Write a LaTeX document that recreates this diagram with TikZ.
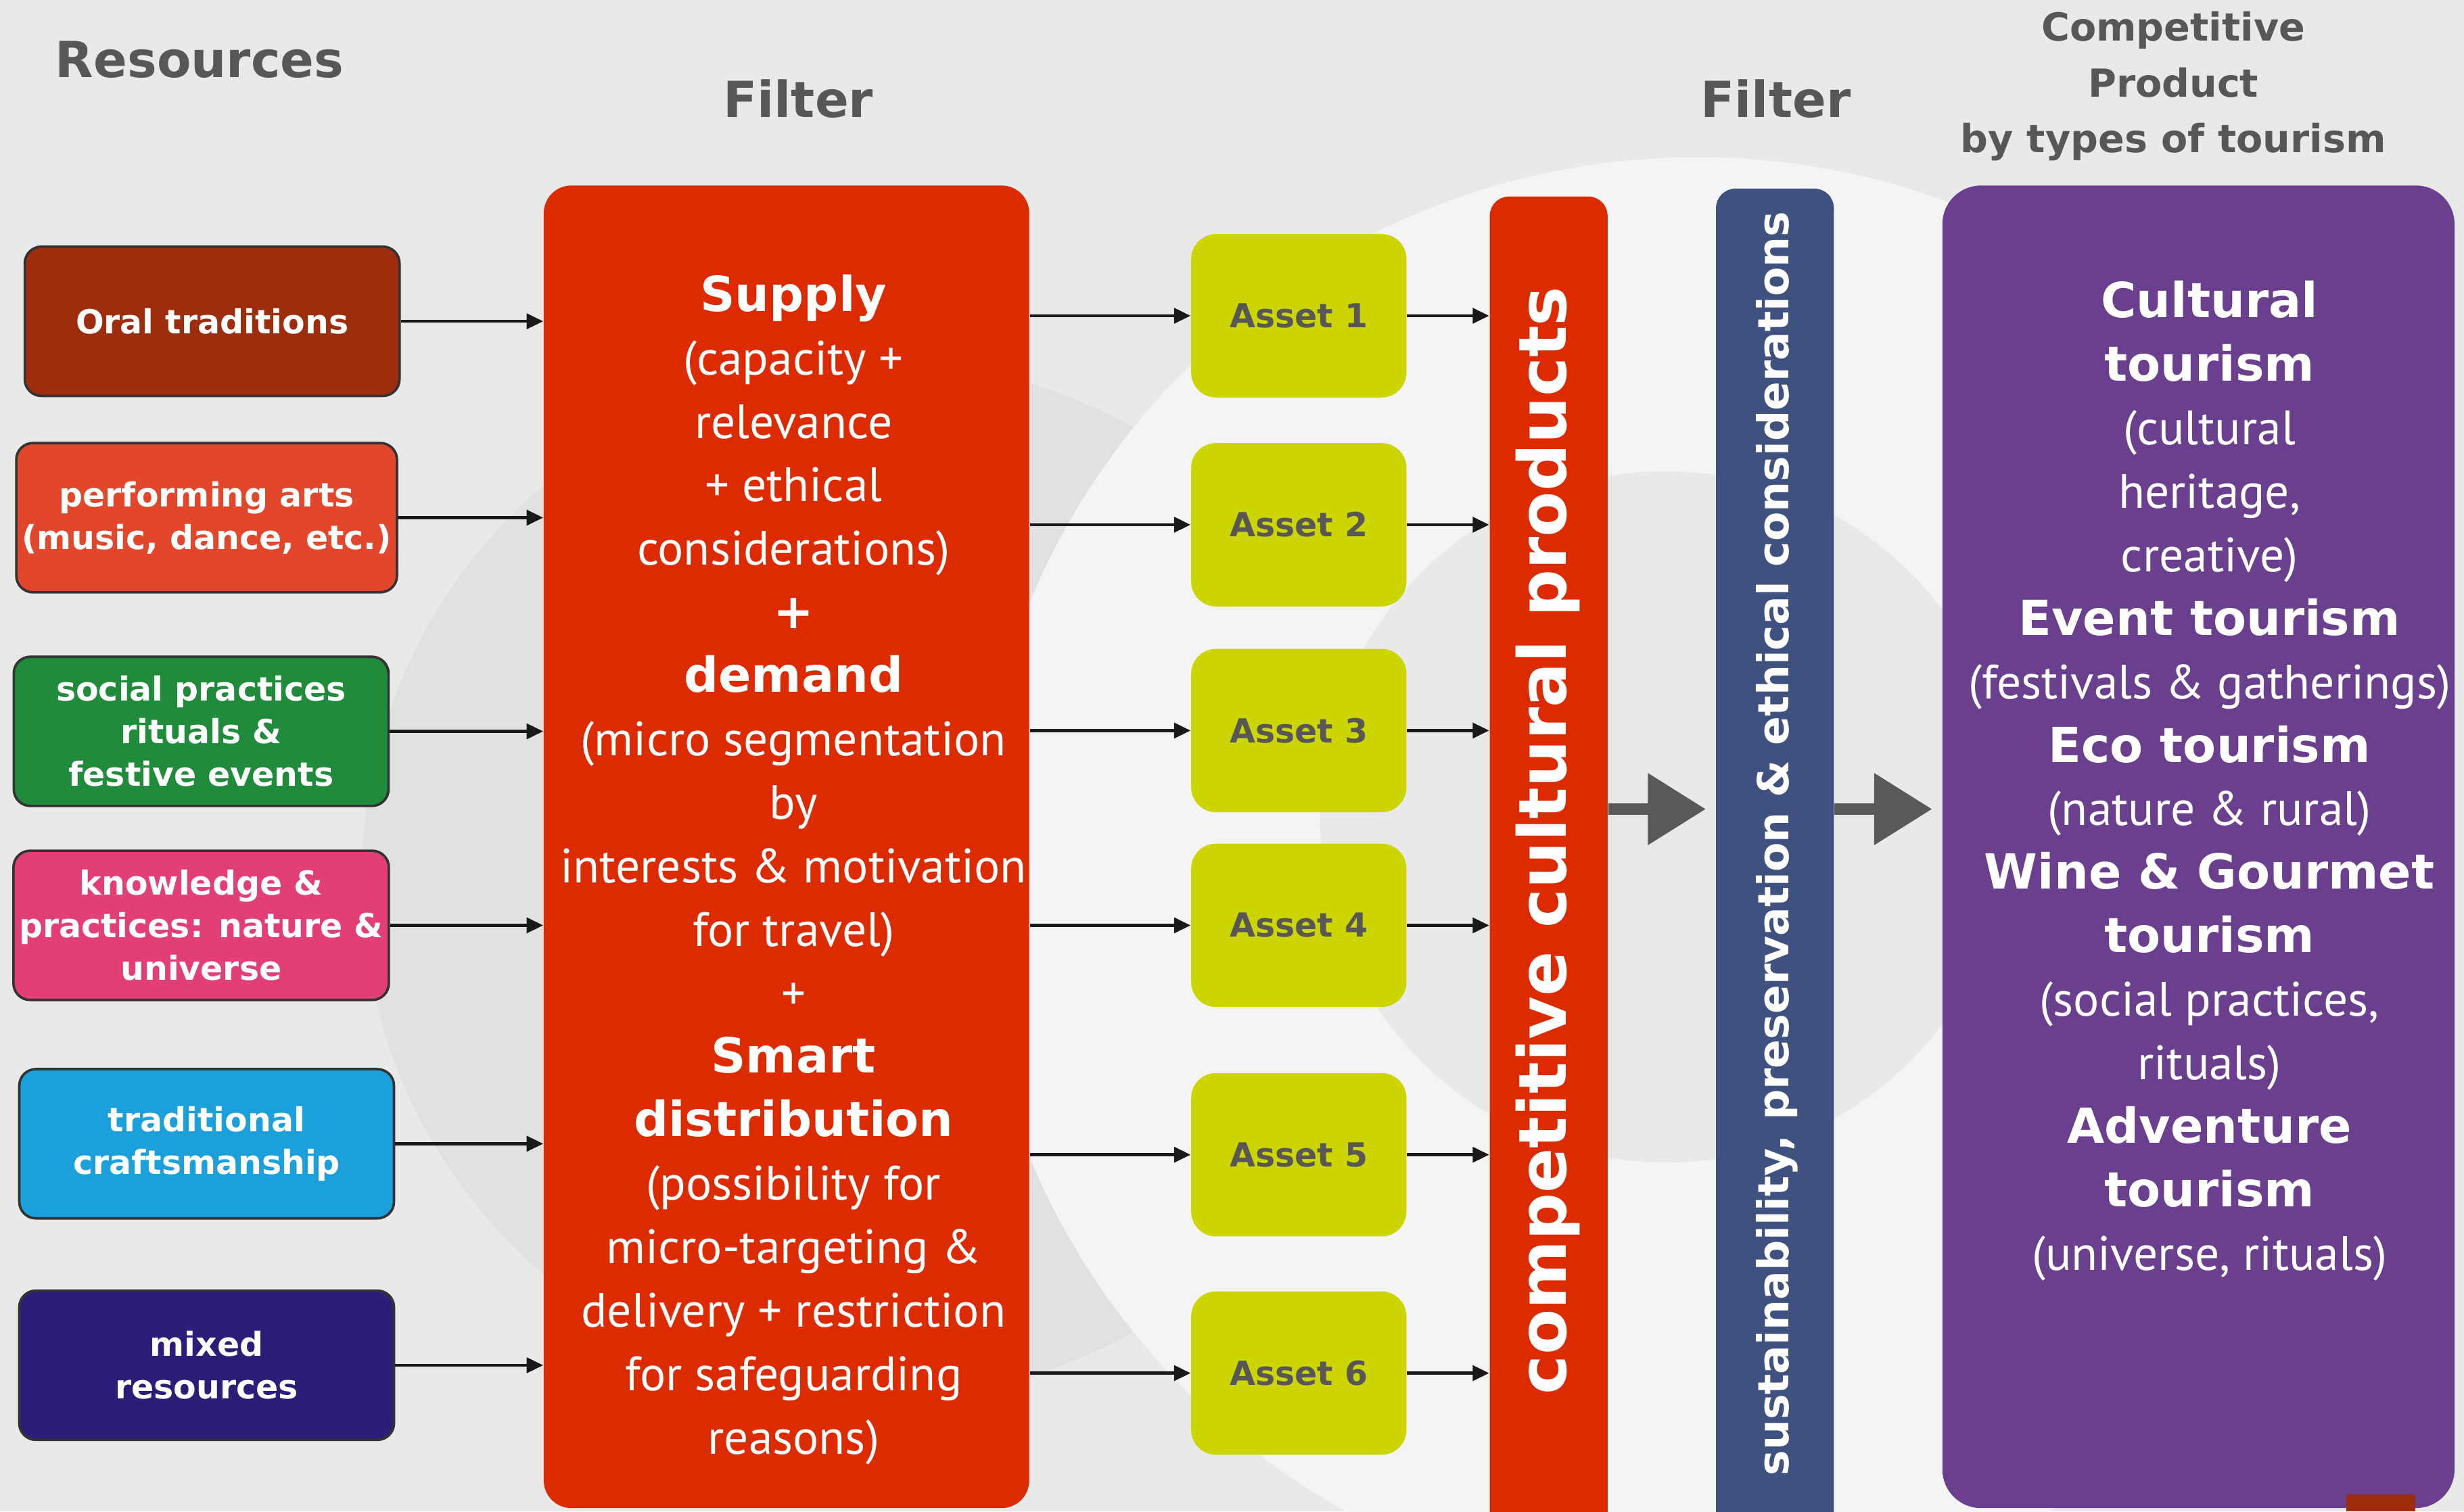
\documentclass[tikz,border=0pt]{standalone}
\usepackage{fontspec}
\setmainfont{PT Sans}
\newfontfamily\vfont{DejaVu Sans}
\usetikzlibrary{arrows.meta, calc, positioning}

\definecolor{oralred}{HTML}{9E2D0E}
\definecolor{artsred}{HTML}{E2462B}
\definecolor{socialgreen}{HTML}{1F8B3B}
\definecolor{knowpink}{HTML}{E23F78}
\definecolor{craftblue}{HTML}{1CA0DC}
\definecolor{mixedblue}{HTML}{2B1E78}
\definecolor{filtred}{HTML}{DC2B00}
\definecolor{assetlime}{HTML}{CCD500}
\definecolor{sustblue}{HTML}{3F517F}
\definecolor{tourpurple}{HTML}{6A3F8D}
\definecolor{headgray}{HTML}{575757}
\definecolor{arrgray}{HTML}{595959}
\definecolor{bggray}{HTML}{E9E9E9}
\definecolor{bgdark}{HTML}{E1E1E1}
\definecolor{bglight}{HTML}{F4F4F4}

\tikzset{
  resbox/.style={draw=black!80, line width=0.9pt, rounded corners=6pt, minimum width=4.77cm, minimum height=1.9cm,
    inner sep=2pt, align=center, text=white, font=\vfont\bfseries\fontsize{12}{15.4}\selectfont},
  assetbox/.style={fill=assetlime, rounded corners=9pt, minimum width=2.74cm, minimum height=2.08cm,
    text=headgray, font=\vfont\bfseries\fontsize{12}{14}\selectfont},
  head/.style={text=headgray, align=center, font=\vfont\bfseries\fontsize{18}{22}\selectfont},
  bar/.style={rounded corners=7pt, minimum width=1.5cm, inner sep=0pt},
  body/.style={text=white, align=center, inner sep=0pt, font=\fontsize{17.5}{23}\selectfont},
  arr/.style={draw=black!90, line width=1.1pt, -{Triangle[length=6pt,width=5.5pt]}},
  bigarr/.style={draw=arrgray, line width=4.2pt, -{Triangle[length=21pt,width=25pt]}, shorten >=3.5pt},
}
\newcommand{\kw}[1]{{\vfont\bfseries\fontsize{17.5}{23}\selectfont #1}}

\begin{document}
\begin{tikzpicture}[x=0.02cm, y=-0.02cm]
    \useasboundingbox (0,0) rectangle (1568,962);
    \clip (0,0) rectangle (1568,962);

    % background swirl
    \fill[bggray] (0,0) rectangle (1568,962);
    \fill[bgdark] (560,560) circle (6.6cm);
    \fill[bglight] (1080,560) circle (9.2cm);
    \fill[bggray] (1060,520) circle (4.4cm);

    % headings
    \node[head] (reshead) at (127,38) {Resources};
    \node[head] (filthead) at (508,63) {Filter};
    \node[head] (susthead) at (1130,63) {Filter};
    \node[head, font=\vfont\bfseries\fontsize{14}{20.2}\selectfont] (prodhead) at (1383,55) {Competitive\\Product\\by types of tourism};

    % resources
    \node[resbox, fill=oralred] (r1) at (135,204.5) {Oral traditions};
    \node[resbox, fill=artsred] (r2) at (131.5,329.5) {performing arts\\(music, dance, etc.)};
    \node[resbox, fill=socialgreen] (r3) at (128,465.5) {social practices\\rituals \&\\festive events};
    \node[resbox, fill=knowpink] (r4) at (128,589) {knowledge \&\\practices: nature \&\\universe};
    \node[resbox, fill=craftblue] (r5) at (131.5,728) {traditional\\craftsmanship};
    \node[resbox, fill=mixedblue] (r6) at (131.5,869) {mixed\\resources};

    % first filter
    \node[fill=filtred, rounded corners=10pt, minimum width=6.18cm, minimum height=16.84cm] (filt) at (500.5,539) {};
    \node[body] (filttext) at (505,553.5) {\kw{Supply}\\(capacity +\\relevance\\+ ethical\\considerations)\\\kw{+}\\\kw{demand}\\(micro segmentation\\by\\interests \& motivation\\for travel)\\+\\\kw{Smart}\\\kw{distribution}\\(possibility for\\micro-targeting \&\\delivery + restriction\\for safeguarding\\reasons)};

    % assets
    \node[assetbox] (a1) at (826.5,201) {Asset 1};
    \node[assetbox] (a2) at (826.5,334) {Asset 2};
    \node[assetbox] (a3) at (826.5,465) {Asset 3};
    \node[assetbox] (a4) at (826.5,589) {Asset 4};
    \node[assetbox] (a5) at (826.5,735) {Asset 5};
    \node[assetbox] (a6) at (826.5,874) {Asset 6};

    % bars
    \node[bar, fill=filtred, minimum height=17.1cm] (prodbar) at (985.5,552.5) {};
    \node[rotate=90, text=white, font=\vfont\bfseries\fontsize{24}{28}\selectfont] (prodtext) at (985,535) {competitive cultural products};
    \node[bar, fill=sustblue, minimum height=17.2cm] (sustbar) at (1129.5,550) {};
    \node[rotate=90, text=white, font=\vfont\bfseries\fontsize{15.5}{18}\selectfont] (susttext) at (1131,537) {sustainability, preservation \& ethical considerations};

    % tourism types
    \node[fill=tourpurple, rounded corners=14pt, minimum width=6.52cm, minimum height=16.84cm] (tour) at (1399,539) {};
    \node[body] (tourtext) at (1406,497) {\kw{Cultural}\\\kw{tourism}\\(cultural\\heritage,\\creative)\\\kw{Event tourism}\\(festivals \& gatherings)\\\kw{Eco tourism}\\(nature \& rural)\\\kw{Wine \& Gourmet}\\\kw{tourism}\\(social practices,\\rituals)\\\kw{Adventure}\\\kw{tourism}\\(universe, rituals)};
    \fill[oralred] (1493,951) -- (1537,951) -- (1537,962) -- (1493,962) -- cycle;

    % connectors
    \draw[arr] (r1.east) -- (r1.east -| filt.west);
    \draw[arr] (r2.east) -- (r2.east -| filt.west);
    \draw[arr] (r3.east) -- (r3.east -| filt.west);
    \draw[arr] (r4.east) -- (r4.east -| filt.west);
    \draw[arr] (r5.east) -- (r5.east -| filt.west);
    \draw[arr] (r6.east) -- (r6.east -| filt.west);

    \draw[arr] (a1.west -| filt.east) -- (a1.west);
    \draw[arr] (a2.west -| filt.east) -- (a2.west);
    \draw[arr] (a3.west -| filt.east) -- (a3.west);
    \draw[arr] (a4.west -| filt.east) -- (a4.west);
    \draw[arr] (a5.west -| filt.east) -- (a5.west);
    \draw[arr] (a6.west -| filt.east) -- (a6.west);

    \draw[arr] (a1.east) -- (a1.east -| prodbar.west);
    \draw[arr] (a2.east) -- (a2.east -| prodbar.west);
    \draw[arr] (a3.east) -- (a3.east -| prodbar.west);
    \draw[arr] (a4.east) -- (a4.east -| prodbar.west);
    \draw[arr] (a5.east) -- (a5.east -| prodbar.west);
    \draw[arr] (a6.east) -- (a6.east -| prodbar.west);

    \coordinate (gmid) at (0,515);
    \draw[bigarr] (prodbar.east |- gmid) -- (sustbar.west |- gmid);
    \draw[bigarr] (sustbar.east |- gmid) -- (tour.west |- gmid);
\end{tikzpicture}
\end{document}
